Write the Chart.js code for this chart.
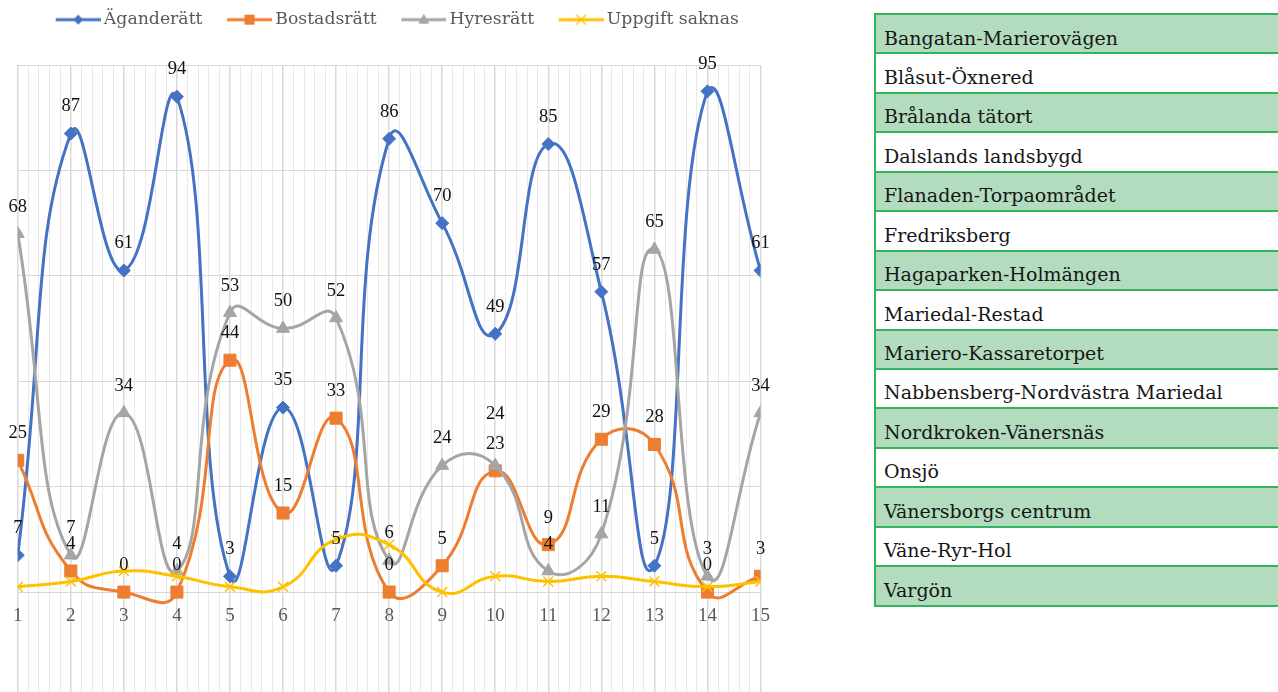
<!DOCTYPE html>
<html>
<head>
<meta charset="utf-8">
<script src="https://cdn.jsdelivr.net/npm/chart.js@4.4.1/dist/chart.umd.min.js"></script>
<style>
  html, body { margin:0; padding:0; background:#fff; overflow:hidden; width:1278px; height:692px; }
  #wrap { position:absolute; left:0; top:0; width:783px; height:707px; }
  #tbl { position:absolute; left:874px; top:13px; width:404px; overflow:hidden; }
  #tbl .inner { width:440px; border-left:2px solid #35B25E; border-bottom:2px solid #35B25E; }
  #tbl .row { box-sizing:border-box; height:39.45px; border-top:2px solid #35B25E; padding:11.5px 0 0 8px;
              font-family:"DejaVu Serif", serif; font-size:19px; line-height:22px; color:#161616; white-space:nowrap; }
  #tbl .row.g { background:#B3DCBF; }
</style>
</head>
<body>
<div id="wrap"><canvas id="c"></canvas></div>
<div id="tbl"><div class="inner" id="rows"></div></div>
<script>
// ---- data ----
const categories = ['Bangatan-Marierovägen','Blåsut-Öxnered','Brålanda tätort','Dalslands landsbygd',
  'Flanaden-Torpaområdet','Fredriksberg','Hagaparken-Holmängen','Mariedal-Restad','Mariero-Kassaretorpet',
  'Nabbensberg-Nordvästra Mariedal','Nordkroken-Vänersnäs','Onsjö','Vänersborgs centrum','Väne-Ryr-Hol','Vargön'];
const xTickLabels = ['1','2','3','4','5','6','7','8','9','10','11','12','13','14','15'];
const seriesNames = ['Äganderätt','Bostadsrätt','Hyresrätt','Uppgift saknas'];
const aganderatt = [7, 87, 61, 94, 3, 35, 5, 86, 70, 49, 85, 57, 5, 95, 61];
const bostadsratt = [25, 4, 0, 0, 44, 15, 33, 0, 5, 23, 9, 29, 28, 0, 3];
const hyresratt = [68, 7, 34, 4, 53, 50, 52, 6, 24, 24, 4, 11, 65, 3, 34];
const uppgiftSaknas = [1, 2, 4, 3, 1, 1, 10, 9, 0, 3, 2, 3, 2, 1, 2];

// ---- table ----
const rowsEl = document.getElementById('rows');
categories.forEach((name, i) => {
  const d = document.createElement('div');
  d.className = 'row' + (i % 2 === 0 ? ' g' : '');
  d.textContent = name;
  rowsEl.appendChild(d);
});

// ---- styles ----
const colors = ['#4472C4', '#ED7D31', '#A5A5A5', '#FFC000'];
const shapes = ['rectRot', 'rect', 'triangle', 'crossRot'];
const radii = [6.5, 8.5, 7.5, 7];

function makeIcon(color, shape) {
  const cv = document.createElement('canvas');
  cv.width = 64; cv.height = 20;
  const c = cv.getContext('2d');
  c.strokeStyle = color; c.fillStyle = color; c.lineWidth = 3;
  c.beginPath(); c.moveTo(19, 10); c.lineTo(64, 10); c.stroke();
  const cx = 41.5, cy = 10;
  c.beginPath();
  if (shape === 'rectRot') { c.moveTo(cx, cy-5); c.lineTo(cx+5, cy); c.lineTo(cx, cy+5); c.lineTo(cx-5, cy); c.closePath(); c.fill(); }
  else if (shape === 'rect') { c.rect(cx-5, cy-5, 10, 10); c.fill(); }
  else if (shape === 'triangle') { c.moveTo(cx, cy-6); c.lineTo(cx+5.5, cy+4); c.lineTo(cx-5.5, cy+4); c.closePath(); c.fill(); }
  else { c.lineWidth = 1.3; c.moveTo(cx-5, cy-5); c.lineTo(cx+5, cy+5); c.moveTo(cx+5, cy-5); c.lineTo(cx-5, cy+5); c.stroke(); }
  return cv;
}
const icons = colors.map((c, i) => makeIcon(c, shapes[i]));

const allSeries = [aganderatt, bostadsratt, hyresratt, uppgiftSaknas];
const showValues = [true, true, true, false];
const datasets = allSeries.map((vals, i) => ({
  label: seriesNames[i],
  data: vals.map((v, j) => ({ x: j + 1, y: v })),
  borderColor: colors[i],
  backgroundColor: colors[i],
  borderWidth: 3,
  pointStyle: shapes[i],
  pointRadius: radii[i],
  pointBorderWidth: i === 3 ? 1.5 : 1,
  pointBorderColor: colors[i],
  pointBackgroundColor: colors[i],
  tension: 0.5,
  order: 3 - i,
  showValues: showValues[i]
}));

const valueLabels = {
  id: 'valueLabels',
  afterDatasetsDraw(chart) {
    const ctx = chart.ctx;
    const placed = [];
    ctx.save();
    ctx.font = '18.5px "Liberation Serif"';
    ctx.fillStyle = '#111';
    ctx.textAlign = 'center';
    ctx.textBaseline = 'middle';
    chart.data.datasets.forEach((ds, di) => {
      if (!ds.showValues) return;
      const meta = chart.getDatasetMeta(di);
      meta.data.forEach((pt, i) => {
        const v = ds.data[i].y;
        const x = pt.x;
        let y = pt.y - 27;
        let guard = 0;
        while (placed.some(p => Math.abs(p.x - x) < 14 && Math.abs(p.y - y) < 10) && guard++ < 5) y -= 24;
        placed.push({ x, y });
        ctx.fillText(String(v), x, y);
      });
    });
    ctx.restore();
  }
};

const legendSpace = {
  id: 'legendSpace',
  afterInit(chart) {
    const lg = chart.legend;
    if (!lg) return;
    const orig = lg.fit;
    lg.fit = function () { orig.call(this); this.height = 65; };
  }
};

const isWhole = v => Math.abs(v - Math.round(v)) < 1e-6;

new Chart(document.getElementById('c'), {
  type: 'line',
  data: { datasets },
  options: {
    responsive: true,
    maintainAspectRatio: false,
    animation: false,
    layout: { padding: { left: 17, right: 19, top: 0, bottom: 3 } },
    plugins: {
      tooltip: { enabled: false },
      legend: {
        position: 'top',
        labels: {
          usePointStyle: true,
          pointStyleWidth: 53,
          padding: 11,
          color: '#595959',
          font: { family: '"DejaVu Serif"', size: 17.3 },
          sort: (a, b) => a.datasetIndex - b.datasetIndex,
          generateLabels(chart) {
            const items = Chart.defaults.plugins.legend.labels.generateLabels(chart);
            items.forEach(it => { it.pointStyle = icons[it.datasetIndex]; });
            return items;
          }
        }
      }
    },
    scales: {
      x: {
        type: 'linear',
        min: 1, max: 15,
        position: { y: 0 },
        ticks: {
          stepSize: 0.2,
          autoSkip: false,
          maxRotation: 0,
          padding: 13,
          color: '#595959',
          font: { family: '"Liberation Serif"', size: 19 },
          callback: (v) => isWhole(v) ? xTickLabels[Math.round(v) - 1] : ''
        },
        grid: {
          drawTicks: false,
          color: (c) => isWhole(c.tick.value) ? '#D9D9D9' : '#E9E9E9',
          lineWidth: (c) => isWhole(c.tick.value) ? 1.5 : 1
        },
        border: { display: true, color: '#D9D9D9', width: 1 }
      },
      y: {
        min: -20, max: 100,
        ticks: { display: false, stepSize: 20 },
        grid: { drawTicks: false, color: '#D9D9D9', lineWidth: 1 },
        border: { display: false }
      }
    }
  },
  plugins: [valueLabels, legendSpace]
});
</script>
</body>
</html>
